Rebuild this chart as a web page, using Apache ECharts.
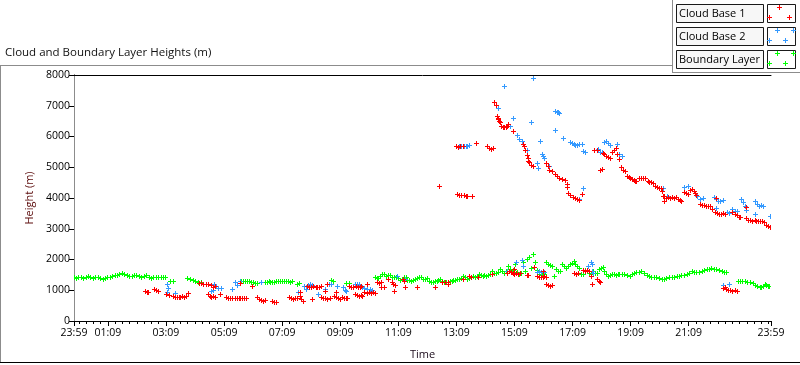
<!DOCTYPE html>
<html><head><meta charset="utf-8">
<script src="https://cdn.jsdelivr.net/npm/echarts@6/dist/echarts.min.js"></script>
<style>html,body{margin:0;padding:0;background:#fff}#c{width:800px;height:365px}</style>
</head><body><div id="c"></div>
<script>
// ---- data (x = minutes after 23:59 of previous day, y = height in metres) ----
const seriesNames = ['Cloud Base 1', 'Cloud Base 2', 'Boundary Layer'];
const timeTickMinutes = [0,70,190,310,430,550,670,790,910,1030,1150,1270,1440];
const yTicks = [0,1000,2000,3000,4000,5000,6000,7000,8000];

const cloudBase1 = [
[147,950],[151,930],[154,940],[167,1010],[171,990],[175,970],[192,860],[197,830],
[205,790],[209,770],[213,780],[217,760],[221,770],[225,790],[229,780],[233,800],[236,890],
[260,1230],[264,1220],[268,1200],[273,1190],[277,1200],[285,1150],[289,1100],[293,1120],
[277,860],[281,800],[285,780],[289,790],[293,770],[302,860],
[316,760],[320,740],[324,730],[328,720],[333,730],[337,720],[341,740],[345,720],[349,730],[353,720],[357,740],
[343,1230],[368,1120],[380,760],[384,700],[388,660],[392,650],[395,670],
[411,630],[415,600],[419,610],[446,750],[450,730],[454,710],[458,720],[461,740],
[467,920],[467,790],[471,700],[475,650],
[483,1120],[487,1100],[491,1090],[495,1110],[500,1100],[504,1090],[508,1100],[512,1110],[492,700],
[512,750],[516,720],[520,730],[524,710],[529,730],[519,960],[523,1180],
[539,790],[543,750],[547,720],[551,700],[543,920],[554,760],[558,740],[562,720],[566,730],
[570,1120],[574,1100],[578,1090],[583,1110],[587,1090],[591,1100],[595,1120],
[581,860],[585,830],[589,800],[593,820],[597,800],
[601,920],[606,900],[610,930],[614,910],[618,920],[622,900],[607,1180],
[628,1250],[632,1230],[636,1250],[636,1090],[642,1100],[649,1350],[657,1250],[661,1200],[665,1150],[663,960],
[680,1350],[682,1280],[684,1090],[709,1090],[746,1090],[762,1250],[768,1240],[774,1260],[773,1180],
[804,1350],[818,1440],[822,1400],[835,1410],[864,1510],
[895,1560],[899,1600],[903,1580],[907,1540],[911,1510],[915,1540],[919,1510],[923,1530],[911,1670],
[936,1480],[940,1470],[952,1730],[957,1440],[961,1420],[965,1430],[969,1400],[973,1440],[977,1410],[969,1600],
[977,1180],[981,1140],[985,1120],[988,1150],
[1035,1560],[1039,1520],[1043,1540],[1052,1640],[1056,1610],[1060,1650],[1064,1620],[1070,1440],[1072,1180],
[1081,1350],[1085,1300],[1087,1260],
[1341,1060],[1345,1080],[1349,1020],[1353,990],[1357,980],[1361,970],[1366,990],[1370,970],
[756,4390],[791,5660],[795,5650],[799,5670],[804,5660],
[793,4110],[797,4090],[801,4080],[806,4070],[810,4060],[814,4050],[824,4040],
[831,5760],[855,5660],[858,5600],[862,5580],[866,5620],
[868,7120],[872,7000],[874,6640],[876,6600],[878,6540],[880,6480],[882,6440],[884,6330],[887,6300],[890,6280],[893,6290],[895,6330],[897,6380],
[907,6150],[928,5730],[930,5660],[932,5530],[936,5370],[938,5270],[940,5180],[942,5140],[946,5060],[950,5010],
[977,5110],[980,5010],[983,4910],[988,4850],[994,4750],[998,4690],[1004,4620],[1010,4590],[1016,4560],[1019,4430],[1019,4330],
[1021,4140],[1025,4070],[1031,4010],[1037,3970],[1041,3940],[1045,3910],[1050,4110],
[1076,5560],[1081,5550],[1087,4910],[1091,4920],
[1093,5450],[1097,5400],[1101,5350],[1105,5310],[1109,5270],[1112,5480],[1116,5560],[1120,5620],[1122,5400],[1128,5240],
[1132,4980],[1136,4910],[1140,4860],[1143,4690],[1147,4660],[1150,4650],
[1153,4590],[1157,4560],[1161,4540],[1163,4530],[1169,4620],[1173,4640],[1177,4650],[1181,4620],
[1186,4530],[1190,4510],[1194,4490],[1198,4460],[1202,4380],[1206,4350],[1210,4320],[1213,4300],[1215,4200],
[1217,4040],[1219,3900],[1221,4040],[1225,3970],[1229,4010],[1233,3990],[1237,4010],[1240,3990],[1244,4010],[1248,3960],
[1252,3920],[1256,3870],[1262,4180],[1266,4150],[1269,4110],[1273,4250],[1277,4270],[1281,4200],[1283,4160],[1287,4090],
[1294,3780],[1298,3750],[1302,3740],[1306,3720],[1310,3710],[1314,3720],[1320,3620],
[1326,3520],[1330,3500],[1334,3470],[1338,3460],[1342,3480],[1347,3460],[1328,3970],
[1361,3520],[1366,3460],[1370,3420],[1374,3380],[1378,3360],[1390,3680],
[1390,3330],[1394,3280],[1398,3260],[1402,3230],[1407,3260],[1411,3250],[1415,3250],[1419,3230],[1423,3220],[1427,3190],
[1431,3120],[1435,3070],[1438,3030]
];

const cloudBase2 = [
[194,1180],[196,1060],[194,920],[209,890],[285,960],[289,980],[291,1180],[295,1120],[299,1050],[305,1060],
[328,1020],[333,1250],[337,1150],[343,1290],[388,1250],[463,920],[467,930],[477,1110],[481,1020],[485,1150],
[489,1180],[493,1160],[506,860],[519,1020],[523,1180],[527,1200],[531,1190],[545,1120],[556,1090],[560,990],
[564,960],[581,1190],[585,1180],[589,1190],[597,1090],[601,1060],[606,1040],[612,1030],[616,1000],[669,1445],[684,1350],
[895,1600],[915,1900],[926,1960],[928,1770],[957,1570],[961,1600],[965,1570],[973,1570],
[1062,1770],[1070,1900],[1072,1830],[1072,1600],[1074,1550],[1341,1150],[1355,1185],
[797,5660],[801,5670],[806,5660],[810,5670],[814,5680],[818,5700],
[876,6900],[890,7640],[897,6380],[901,6310],[909,6600],[917,6020],[921,5890],[926,5830],[936,5560],[946,6440],
[950,7870],[957,5110],[959,4950],[963,5850],[967,5400],[971,5350],[973,5300],[983,5010],
[994,6800],[998,6780],[1002,6770],[1004,6760],[994,6180],[1012,5920],
[1025,5790],[1029,5760],[1033,5730],[1037,5700],[1041,5720],[1045,5730],[1050,5750],[1052,5500],[1056,5470],
[1052,4300],[1045,3940],[1083,5590],[1087,5470],[1091,5480],[1097,5800],[1101,5830],[1105,5780],[1109,5700],
[1122,5730],[1128,5430],[1134,5340],[1217,4300],[1221,4040],[1227,4040],[1262,4330],[1269,4360],
[1289,4040],[1294,3940],[1300,3980],[1324,4010],[1328,3960],[1332,3900],[1336,3880],[1341,3920],[1328,3650],
[1351,3520],[1355,3500],[1361,3620],[1366,3560],[1370,3550],[1380,3940],[1384,3850],[1388,3720],[1390,3600],
[1407,3880],[1407,3460],[1413,3780],[1417,3720],[1421,3740],[1425,3710],[1438,3390]
];

const boundaryLayer = [
[0,1400],[5,1390],[10,1420],[15,1400],[20,1390],[25,1420],[30,1440],[35,1430],[40,1380],[45,1400],
[50,1410],[55,1370],[60,1350],[65,1380],[70,1400],[75,1430],[80,1450],[85,1470],[90,1480],[95,1500],
[100,1530],[105,1500],[110,1470],[115,1450],[120,1440],[125,1470],[130,1480],[135,1450],[140,1410],[145,1440],
[150,1470],[155,1430],[160,1390],[165,1410],[170,1430],[175,1420],[180,1410],[185,1410],[190,1400],
[200,1280],[206,1270],[235,1390],[240,1360],[246,1310],[252,1270],[258,1250],[263,1240],
[343,1290],[347,1300],[351,1290],[355,1280],[359,1270],[363,1270],[367,1260],[371,1250],[375,1230],[380,1210],
[395,1240],[399,1260],[403,1270],[407,1250],[411,1260],[415,1250],[419,1270],[423,1290],[427,1300],[431,1300],
[435,1290],[439,1280],[443,1270],[447,1260],[451,1270],[461,1200],[465,1210],[533,1320],[537,1300],[564,1230],[570,1220],
[622,1410],[626,1390],[630,1380],[634,1450],[638,1500],[642,1510],[646,1460],[650,1470],[654,1480],[658,1420],
[662,1410],[666,1400],[670,1380],[674,1320],[678,1350],[682,1400],[686,1410],[690,1330],[694,1320],[698,1290],
[702,1330],[706,1350],[710,1380],[714,1400],[718,1410],[722,1360],[726,1350],[730,1370],[734,1300],[738,1260],
[742,1250],[746,1290],[750,1300],[754,1330],[758,1350],[762,1300],[766,1260],[770,1250],
[777,1290],[781,1300],[785,1310],[789,1330],[793,1350],[797,1340],[801,1380],[805,1440],[809,1400],[813,1350],
[817,1380],[821,1420],[825,1440],[829,1430],[833,1460],[837,1500],[841,1480],[845,1450],[849,1470],[853,1440],
[857,1480],[861,1520],[865,1600],[869,1560],[873,1540],[877,1580],[881,1670],[885,1600],[889,1560],[893,1620],
[897,1760],[901,1680],[905,1600],[909,1640],[913,1830],[917,1580],[921,1520],[925,1560],[929,1900],[933,1620],
[937,2000],[941,2070],[945,1700],[949,2160],[953,1900],[957,1640],[961,1520],[965,1480],[969,1560],[973,1500],
[977,1900],[981,1840],[985,1800],[989,1770],[993,1450],[997,1670],[1001,1600],[1005,1620],[1009,1830],[1013,1760],
[1017,1700],[1021,1780],[1025,1830],[1029,1880],[1033,1930],[1037,1850],[1041,1760],[1045,1700],[1049,1520],[1053,1500],
[1057,1640],[1061,1600],[1065,1530],[1069,1520],[1073,1610],[1077,1560],[1081,1550],[1085,1670],[1089,1700],[1093,1730],
[1097,1620],[1101,1500],[1105,1445],[1109,1480],[1113,1510],[1117,1500],[1121,1480],[1125,1520],
[1128,1510],[1133,1500],[1138,1520],[1143,1490],[1149,1445],[1154,1500],[1159,1540],[1163,1570],[1168,1580],[1173,1600],
[1178,1530],[1184,1480],[1189,1440],[1194,1410],[1199,1420],[1204,1430],[1209,1390],[1215,1345],[1220,1360],[1225,1380],
[1230,1400],[1236,1410],[1241,1430],[1246,1440],[1251,1460],[1256,1475],[1261,1490],[1267,1510],[1272,1560],[1277,1610],
[1282,1580],[1287,1570],[1292,1590],[1298,1610],[1303,1640],[1308,1670],[1313,1690],[1318,1700],[1323,1690],[1328,1670],
[1333,1650],[1339,1610],[1344,1590],[1349,1570],
[1372,1290],[1377,1280],[1382,1270],[1387,1270],[1392,1260],[1397,1250],[1403,1220],[1408,1170],[1413,1120],[1418,1100],
[1421,1090],[1425,1110],[1428,1180],[1431,1140],[1434,1120],[1437,1110],[1440,1120]
];

// ---- chart ----
const colors = ['#ff0000', '#3399ff', '#00ff00'];
const FONT = 'Open Sans';
const minorTicks = [];
for (let m = 10; m < 1440; m += 15) if (timeTickMinutes.indexOf(m) < 0) minorTicks.push(m);
function pad(n){ return (n < 10 ? '0' : '') + n; }
function fmtTime(v){ const m = (23*60 + 59 + Math.round(v)) % 1440; return pad(Math.floor(m/60)) + ':' + pad(m % 60); }

const chart = echarts.init(document.getElementById('c'), null, {renderer: 'canvas'});

function plusShape(cx, cy, color){
  return {type: 'group', silent: true, children: [
    {type: 'rect', shape: {x: cx - 2, y: cy, width: 5, height: 1}, style: {fill: color}},
    {type: 'rect', shape: {x: cx, y: cy - 2, width: 1, height: 5}, style: {fill: color}}
  ]};
}
function plusSeries(name, data, color, z){
  return {name: name, type: 'custom', data: data, z: z, clip: true, silent: true,
    encode: {x: 0, y: 1},
    renderItem: function(params, api){
      const p = api.coord([api.value(0), api.value(1)]);
      return plusShape(Math.round(p[0] - 0.5), Math.round(p[1] - 0.5), color);
    }};
}
const legendGraphics = [];
const rowTops = [4, 27, 50];
const swatchPts = [
  [[779,7],[769,17],[789,17]],
  [[777,30],[793,30],[769,40],[785,40]],
  [[777,53],[793,53],[769,63],[785,63]]
];
seriesNames.forEach((n, i) => {
  const y = rowTops[i];
  legendGraphics.push({type: 'rect', shape: {x: 676.5, y: y + 0.5, width: 87, height: 18}, style: {fill: '#f7f7f7', stroke: '#1a1a1a', lineWidth: 1}});
  legendGraphics.push({type: 'text', x: 679, y: y + 10, style: {text: n, font: '11px "' + FONT + '"', fill: '#000', verticalAlign: 'middle'}});
  legendGraphics.push({type: 'rect', shape: {x: 767.5, y: y + 0.5, width: 28, height: 18}, style: {fill: '#fff', stroke: '#1a1a1a', lineWidth: 1}});
  swatchPts[i].forEach(p => legendGraphics.push(plusShape(p[0], p[1], colors[i])));
});

const option = {
  animation: false,
  backgroundColor: '#ffffff',
  title: {text: 'Cloud and Boundary Layer Heights (m)', left: 5, top: 47, padding: 0,
    textStyle: {fontFamily: FONT, fontSize: 11.5, fontWeight: 'normal', color: '#111'}},
  grid: {left: 74, top: 75, right: 29, bottom: 44, show: false},
  xAxis: [
    {type: 'value', min: 0, max: 1440, position: 'bottom',
      name: 'Time', nameLocation: 'middle', nameGap: 28,
      nameTextStyle: {fontFamily: FONT, fontSize: 11, color: '#1a0a1a'},
      axisLine: {show: true, lineStyle: {color: '#000', width: 1}},
      axisTick: {show: true, customValues: timeTickMinutes, length: 5, lineStyle: {color: '#000'}},
      axisLabel: {show: true, customValues: timeTickMinutes, formatter: fmtTime, margin: 7, hideOverlap: false,
        fontFamily: FONT, fontSize: 10.5, color: '#000'},
      splitLine: {show: false}},
    {type: 'value', min: 0, max: 1440, position: 'bottom',
      axisLine: {show: false}, axisLabel: {show: false}, splitLine: {show: false},
      axisTick: {show: true, customValues: minorTicks, length: 3, lineStyle: {color: '#000'}}},
    {type: 'value', min: 0, max: 1440, position: 'top',
      axisLine: {show: true, lineStyle: {color: '#000'}}, axisLabel: {show: false}, axisTick: {show: false}, splitLine: {show: false}}
  ],
  yAxis: [
    {type: 'value', min: 0, max: 8000, interval: 1000, position: 'left',
      name: 'Height (m)', nameLocation: 'middle', nameGap: 35, nameRotate: 90,
      nameTextStyle: {fontFamily: FONT, fontSize: 11, color: '#5a0a0a'},
      axisLine: {show: true, lineStyle: {color: '#000'}},
      axisTick: {show: true, length: 5, lineStyle: {color: '#000'}},
      axisLabel: {show: true, margin: 4, fontFamily: FONT, fontSize: 10.5, color: '#000',
        customValues: yTicks, formatter: function(v){ return String(v); }},
      splitLine: {show: false}},
    {type: 'value', min: 0, max: 8000, position: 'right',
      axisLine: {show: true, lineStyle: {color: '#8c8c8c'}}, axisLabel: {show: false}, axisTick: {show: false}, splitLine: {show: false}}
  ],
  series: [
    plusSeries(seriesNames[2], boundaryLayer, colors[2], 2),
    plusSeries(seriesNames[1], cloudBase2, colors[1], 3),
    plusSeries(seriesNames[0], cloudBase1, colors[0], 4)
  ],
  graphic: [
    {type: 'line', shape: {x1: 0, y1: 65.5, x2: 672, y2: 65.5}, style: {stroke: '#8c8c8c', lineWidth: 1}, silent: true},
    {type: 'line', shape: {x1: 0.5, y1: 65, x2: 0.5, y2: 363}, style: {stroke: '#8c8c8c', lineWidth: 1}, silent: true},
    {type: 'line', shape: {x1: 0, y1: 362.5, x2: 800, y2: 362.5}, style: {stroke: '#000', lineWidth: 1}, silent: true},
    {type: 'line', shape: {x1: 672.5, y1: 0, x2: 672.5, y2: 72}, style: {stroke: '#8c8c8c', lineWidth: 1}, silent: true},
    {type: 'line', shape: {x1: 672, y1: 72.5, x2: 800, y2: 72.5}, style: {stroke: '#8c8c8c', lineWidth: 1}, silent: true}
  ].concat(legendGraphics)
};
chart.setOption(option);
</script></body></html>
